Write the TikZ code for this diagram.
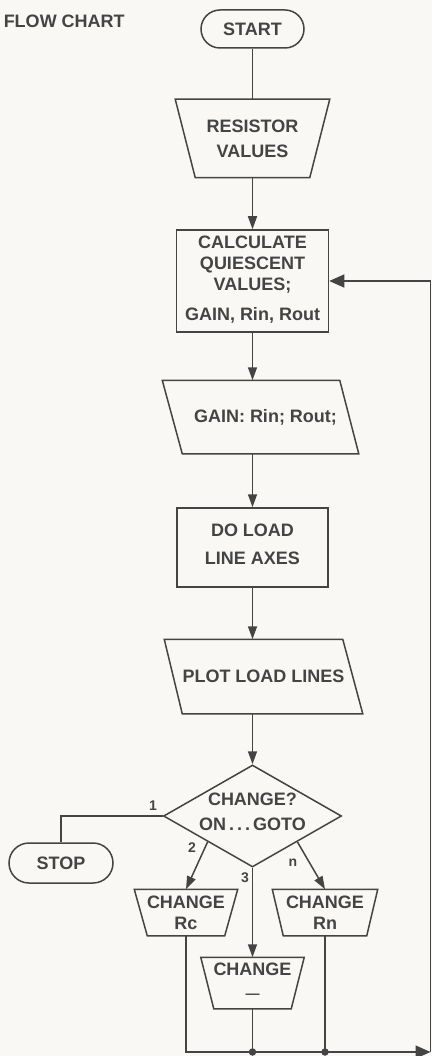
\documentclass[tikz,border=0pt]{standalone}
\usepackage{fontspec}
\setmainfont{Liberation Sans}
\usetikzlibrary{shapes.geometric,shapes.misc,arrows.meta,calc}
\definecolor{ink}{RGB}{68,68,68}
\definecolor{paper}{RGB}{249,248,244}
\begin{document}
\begin{tikzpicture}[x=1pt,y=-1pt,color=ink,line width=1.5pt,
  lbl/.style={font=\fontsize{18}{21}\selectfont\bfseries, align=center, inner sep=0pt},
  num/.style={font=\fontsize{14}{16}\selectfont\bfseries, inner sep=0pt},
  arr/.style={-{Triangle[length=13pt,width=9pt]}},
  bigarr/.style={-{Triangle[length=15pt,width=13pt]}},
  dot/.style={circle, fill=ink, inner sep=0pt, minimum size=7.5pt}]
\fill[paper] (0,0) rectangle (432,1056);
\useasboundingbox (0,0) rectangle (432,1056);
\coordinate (spine) at (252.5,0);

\node[lbl, anchor=west] (title) at (3,21) {FLOW CHART};

\node[lbl, draw, rounded rectangle, minimum width=103pt, minimum height=38pt] (start) at (252.5,29) {START};

\node[lbl, minimum width=153pt, minimum height=77pt] (res) at (252.5,138.5) {RESISTOR\\[4pt]VALUES};
\draw (res.north west) -- (res.north east) -- ([xshift=-20pt]res.south east) -- ([xshift=20pt]res.south west) -- cycle;

\node[lbl, draw, minimum width=152pt, minimum height=102pt] (calc) at (252.5,281) {};
\node[lbl] (calctext) at (252.5,279.5) {CALCULATE\\QUIESCENT\\VALUES;\\[9pt]GAIN, Rin, Rout};

\node[lbl, minimum width=195pt, minimum height=72pt] (gain) at (260.5,417) {\hspace*{10pt}GAIN: Rin; Rout;};
\draw (gain.north west) -- ([xshift=-19pt]gain.north east) -- (gain.south east) -- ([xshift=20pt]gain.south west) -- cycle;

\node[lbl, draw, minimum width=151pt, minimum height=79pt] (load) at (252.5,547.5) {};
\node[lbl] (loadtext) at (252.5,544) {DO LOAD\\[7pt]LINE AXES};

\node[lbl, minimum width=197pt, minimum height=73pt] (plot) at (263.5,676.5) {PLOT LOAD LINES};
\draw (plot.north west) -- ([xshift=-20pt]plot.north east) -- (plot.south east) -- ([xshift=18pt]plot.south west) -- cycle;

\node[draw, diamond, aspect=1.745, minimum width=178pt, minimum height=102pt, inner sep=0pt] (dia) at (252.5,816) {};
\node[lbl] (diatext) at (252.5,812) {CHANGE?\\[4pt]ON\,.\,.\,.\,GOTO};

\node[lbl, draw, rounded rectangle, minimum width=104pt, minimum height=40pt] (stop) at (61,863) {STOP};

\node[lbl, minimum width=102pt, minimum height=45pt] (rc) at (186,912.5) {CHANGE\\Rc};
\draw (rc.north west) -- (rc.north east) -- ([xshift=-13pt]rc.south east) -- ([xshift=13pt]rc.south west) -- cycle;

\node[lbl, minimum width=104pt, minimum height=45pt] (rn) at (325,912.5) {CHANGE\\Rn};
\draw (rn.north west) -- (rn.north east) -- ([xshift=-11pt]rn.south east) -- ([xshift=11pt]rn.south west) -- cycle;

\node[minimum width=102pt, minimum height=50pt, inner sep=0pt] (chg3) at (252.5,983) {};
\draw (chg3.north west) -- (chg3.north east) -- ([xshift=-13pt]chg3.south east) -- ([xshift=13pt]chg3.south west) -- cycle;
\node[lbl] (chg3text) at (252.5,981) {CHANGE\\[2pt]{\fontsize{14}{16}\selectfont ---}};

\node[num] (l1) at (153,806) {1};
\node[num] (l2) at (192,848) {2};
\node[num] (l3) at (245,878) {3};
\node[num] (ln) at (293,863) {n};

\draw (start.south) -- (spine |- res.north);
\draw[arr] (spine |- res.south) -- (calc.north);
\draw[arr] (calc.south) -- (spine |- gain.north);
\draw[arr] (spine |- gain.south) -- (load.north);
\draw[arr] (load.south) -- (spine |- plot.north);
\draw[arr] (spine |- plot.south) -- (dia.north);

\draw (dia.west) -| (stop.north);
\draw[arr] ($(dia.west)!0.5!(dia.south)$) -- (rc.north);
\draw[arr] ($(dia.east)!0.5!(dia.south)$) -- (rn.north);
\draw[arr] (dia.south) -- (chg3.north);

\coordinate (corner) at (430.5,1052);
\draw[bigarr] (rc.south) |- (corner);
\draw (chg3.south) -- (chg3.south |- corner);
\draw (rn.south) -- (rn.south |- corner);
\node[dot] (d1) at (chg3.south |- corner) {};
\node[dot] (d2) at (rn.south |- corner) {};
\draw[bigarr] (corner) |- (calc.east);
\end{tikzpicture}
\end{document}
